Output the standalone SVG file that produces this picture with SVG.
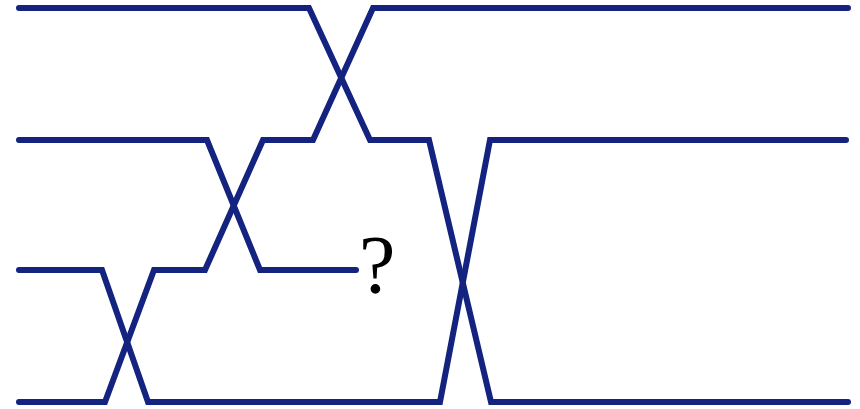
<svg xmlns="http://www.w3.org/2000/svg" width="860" height="409" viewBox="0 0 860 409">
<style>
.w{fill:none;stroke:#13237f;stroke-width:6;stroke-linecap:round;stroke-linejoin:miter}
.q{font-family:"Liberation Serif",serif;font-size:82px;fill:#000}
</style>
<rect width="860" height="409" fill="#fff"/>
<g id="connectors">
<path class="w" d="M19,8 H309 L370,140 H429 L491,402 H848"/>
<path class="w" d="M19,140 H207 L260,270 H356"/>
<path class="w" d="M19,270 H102 L148,402 H440 L490,140 H846"/>
<path class="w" d="M19,402 H105 L154,270 H205 L263,140 H313 L373,8 H848"/>
</g>
<g id="label"><text class="q" x="359" y="292">?</text></g>
</svg>
